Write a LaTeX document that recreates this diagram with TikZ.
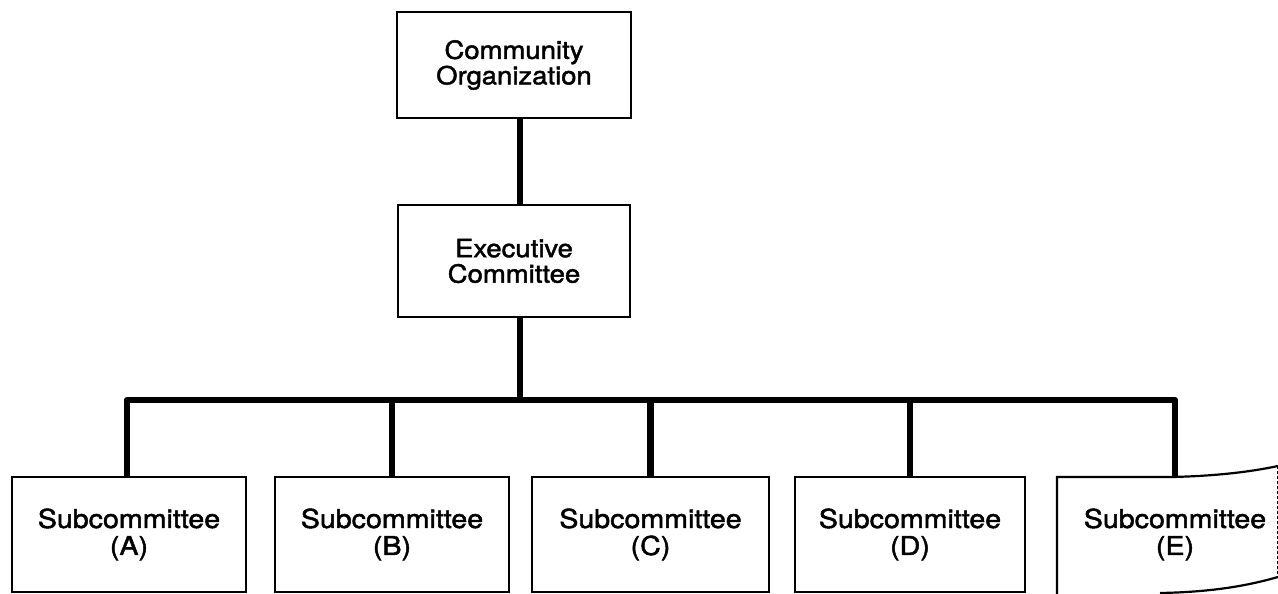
\documentclass[tikz,border=0pt]{standalone}
\usepackage{fontspec}
\newfontfamily\chartfont{TeX Gyre Heros}[FakeStretch=1.1,FakeBold=1.8]
\begin{document}
\begin{tikzpicture}[x=1pt,y=-1pt,
  box/.style={draw=black,line width=2.2pt,fill=white,align=center,inner sep=0pt},
  topbox/.style={box,font=\chartfont\fontsize{25}{25.5}\selectfont},
  subbox/.style={box,font=\chartfont\fontsize{26}{27}\selectfont,minimum width=234pt,minimum height=115pt},
  conn/.style={line width=6.5pt,line join=round,line cap=butt}]
\useasboundingbox (0,0) rectangle (1278,594);
\node[topbox,minimum width=234pt,minimum height=106pt] (org) at (514,65) {Community\\Organization};
\node[topbox,minimum width=232pt,minimum height=112pt] (exec) at (514,261) {Executive\\Committee};
\node[subbox] (A) at (129,534.5) {Subcommittee\\(A)};
\node[subbox] (B) at (392,534.5) {Subcommittee\\(B)};
\node[subbox,minimum width=237pt] (C) at (650.5,534.5) {Subcommittee\\(C)};
\node[subbox,minimum width=230pt] (D) at (910,534.5) {Subcommittee\\(D)};
% page-curl box E
\draw[line width=2.2pt] (1057,600) -- (1057,477) -- (1172,477)
  .. controls (1215,476) and (1250,472) .. (1278,466);
\draw[line width=2.2pt] (1160,593) .. controls (1215,592) and (1250,585) .. (1278,577);
\draw[line width=1pt,dash pattern=on 3pt off 2pt] (1277,466) -- (1277,578);
\node[subbox,draw=none,fill=none,minimum width=10pt] (E) at (1175,534.5) {Subcommittee\\(E)};
\coordinate (bar) at (520,400);
\draw[conn] ([xshift=6pt]org.south) -- ([xshift=6pt]exec.north);
\draw[conn] ([xshift=6pt]exec.south) -- (bar);
\draw[conn] ([xshift=-2pt]A.north) |- (bar) -| (E.north);
\draw[conn] (bar -| B.north) -- (B.north);
\draw[conn] (bar -| C.north) -- (C.north);
\draw[conn] (bar -| D.north) -- (D.north);
\end{tikzpicture}
\end{document}
